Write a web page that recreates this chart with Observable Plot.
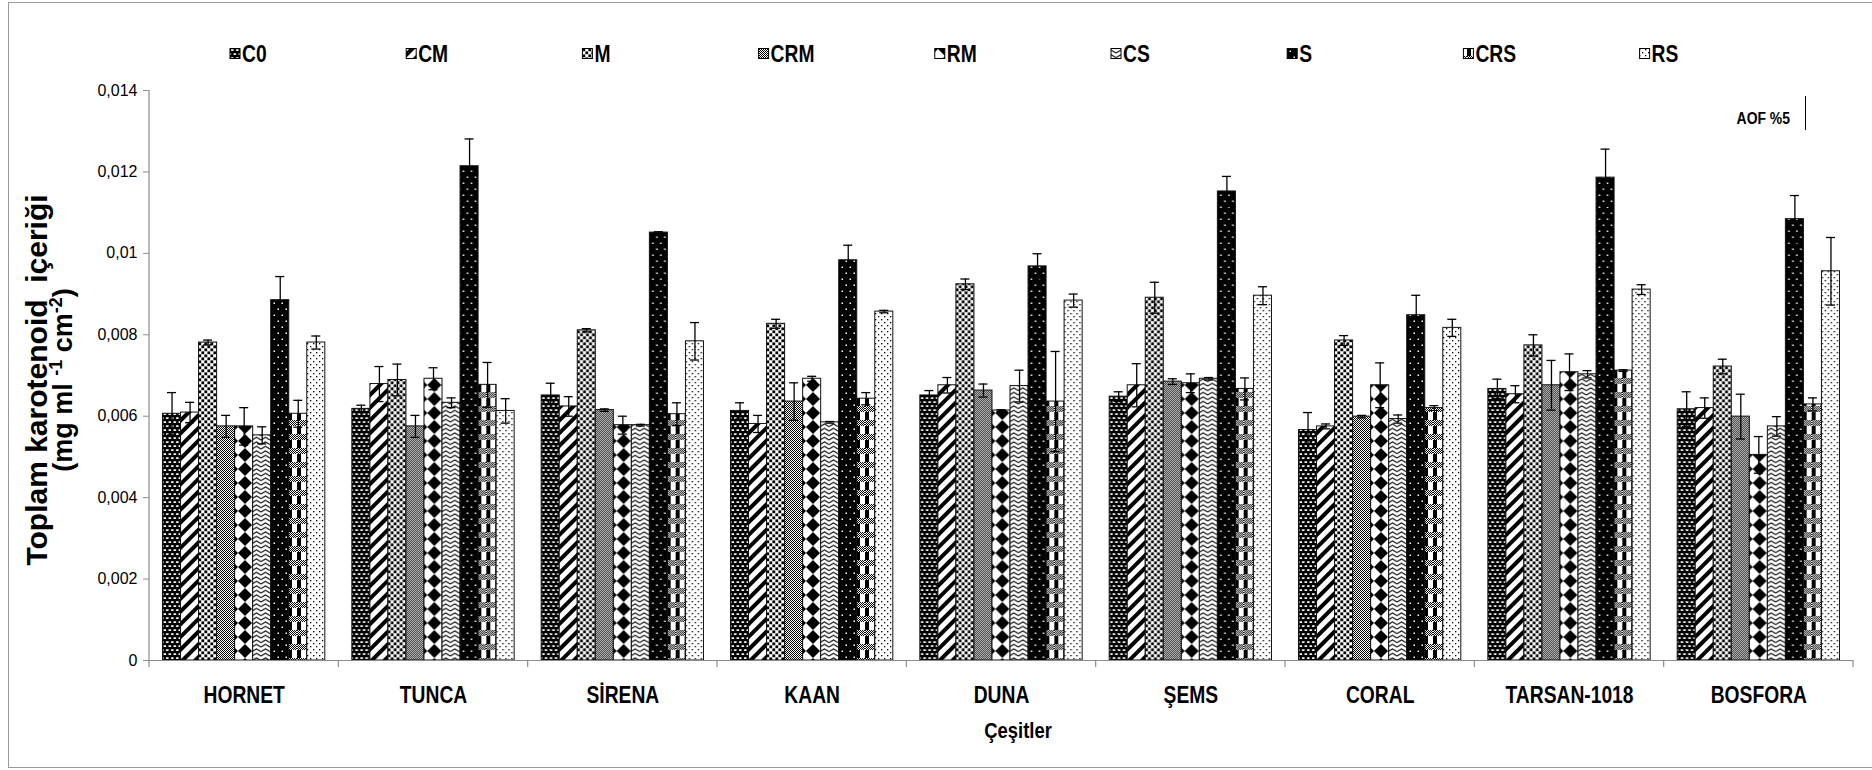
<!DOCTYPE html>
<html><head><meta charset="utf-8">
<script src="https://cdn.jsdelivr.net/npm/d3@7"></script>
<script src="https://cdn.jsdelivr.net/npm/@observablehq/plot@0.6"></script>
<style>
html,body{margin:0;padding:0;background:#fff;}
#wrap{position:relative;width:1872px;height:770px;overflow:hidden;background:#fff;}
#overlay{position:absolute;left:0;top:0;pointer-events:none;}
#chart{position:absolute;left:0;top:0;}
</style></head>
<body>
<svg width="0" height="0" style="position:absolute">
<defs>
<pattern id="chk" width="2" height="2" patternUnits="userSpaceOnUse"><rect width="2" height="2" fill="#fff"/><rect width="1" height="1" fill="#000"/><rect x="1" y="1" width="1" height="1" fill="#000"/></pattern>
<pattern id="p-C0" width="5" height="8" patternUnits="userSpaceOnUse"><rect width="5" height="8" fill="#000"/><rect x="0.8" y="1.2" width="3" height="1.7" rx="0.8" fill="#fff"/><rect x="3.3" y="5.2" width="3" height="1.7" rx="0.8" fill="#fff"/><rect x="-1.7" y="5.2" width="3" height="1.7" rx="0.8" fill="#fff"/></pattern>
<pattern id="p-CM" width="9" height="9" patternUnits="userSpaceOnUse" patternTransform="rotate(45)"><rect width="9" height="9" fill="#fff"/><rect width="4" height="9" fill="#000"/></pattern>
<pattern id="p-M" width="6" height="6" patternUnits="userSpaceOnUse"><rect width="6" height="6" fill="#fff"/><rect x="0.4" y="0.4" width="2.8" height="2.8" fill="#000"/><rect x="3.4" y="3.4" width="2.8" height="2.8" fill="#000"/><rect x="-2.6" y="3.4" width="2.8" height="2.8" fill="#000"/><rect x="3.4" y="-2.6" width="2.8" height="2.8" fill="#000"/></pattern>
<pattern id="p-CRM" width="2" height="2" patternUnits="userSpaceOnUse"><rect width="2" height="2" fill="#fff"/><rect width="1" height="1" fill="#000"/><rect x="1" y="1" width="1" height="1" fill="#000"/></pattern>
<pattern id="p-RM" width="14" height="14" patternUnits="userSpaceOnUse"><rect width="14" height="14" fill="#fff"/><polygon points="7,0 14,7 7,14 0,7" fill="#000"/></pattern>
<pattern id="p-CS" width="9" height="4.5" patternUnits="userSpaceOnUse"><rect width="9" height="4.5" fill="#fff"/><polyline points="0,3.6 4.5,0.9 9,3.6" fill="none" stroke="#000" stroke-width="1.1"/></pattern>
<pattern id="p-S" width="8" height="12" patternUnits="userSpaceOnUse"><rect width="8" height="12" fill="#000"/><rect x="1.5" y="2.5" width="1.5" height="1.5" fill="#fff"/><rect x="5.5" y="8.5" width="1.5" height="1.5" fill="#fff"/></pattern>
<pattern id="p-CRS" width="9" height="14" patternUnits="userSpaceOnUse"><rect width="9" height="14" fill="#fff"/><rect width="4" height="14" fill="#000"/><rect y="0" width="9" height="6" fill="url(#chk)"/></pattern>
<pattern id="p-RS" width="6" height="6" patternUnits="userSpaceOnUse"><rect width="6" height="6" fill="#fff"/><rect x="1" y="1" width="1.3" height="1.3" fill="#000"/><rect x="4" y="4" width="1.3" height="1.3" fill="#000"/></pattern>
</defs>
</svg>
<div id="wrap"><div id="chart"></div><svg id="overlay" width="1872" height="770"></svg></div>
<script>
// ---------- data ----------
const varieties = ["HORNET", "TUNCA", "SİRENA", "KAAN", "DUNA", "ŞEMS", "CORAL", "TARSAN-1018", "BOSFORA"];
const treatments = ["C0", "CM", "M", "CRM", "RM", "CS", "S", "CRS", "RS"];

const C0  = [0.00606, 0.00618, 0.00651, 0.00613, 0.00651, 0.00648, 0.00566, 0.00667, 0.00617];
const CM  = [0.00609, 0.00679, 0.00624, 0.00581, 0.00676, 0.00676, 0.00575, 0.00654, 0.00620];
const M   = [0.00781, 0.00689, 0.00811, 0.00827, 0.00924, 0.00891, 0.00786, 0.00774, 0.00722];
const CRM = [0.00575, 0.00575, 0.00615, 0.00636, 0.00663, 0.00685, 0.00599, 0.00676, 0.00599];
const RM  = [0.00575, 0.00692, 0.00578, 0.00692, 0.00614, 0.00681, 0.00676, 0.00708, 0.00505];
const CS  = [0.00553, 0.00633, 0.00578, 0.00585, 0.00674, 0.00692, 0.00593, 0.00703, 0.00575];
const S   = [0.00885, 0.01214, 0.01051, 0.00983, 0.00968, 0.01152, 0.00848, 0.01186, 0.01084];
const CRS = [0.00606, 0.00677, 0.00605, 0.00643, 0.00636, 0.00667, 0.00620, 0.00712, 0.00629];
const RS  = [0.00781, 0.00613, 0.00784, 0.00857, 0.00884, 0.00896, 0.00817, 0.00911, 0.00956];

const errC0  = [0.00052, 0.00009, 0.00030, 0.00020, 0.00012, 0.00012, 0.00043, 0.00024, 0.00043];
const errCM  = [0.00025, 0.00043, 0.00024, 0.00021, 0.00019, 0.00053, 0.00006, 0.00021, 0.00025];
const errM   = [0.00006, 0.00039, 0.00004, 0.00011, 0.00013, 0.00038, 0.00012, 0.00026, 0.00018];
const errCRM = [0.00027, 0.00027, 0.00003, 0.00046, 0.00016, 0.00007, 0.00003, 0.00061, 0.00055];
const errRM  = [0.00046, 0.00027, 0.00022, 0.00006, 0.00002, 0.00023, 0.00055, 0.00045, 0.00045];
const errCS  = [0.00021, 0.00012, 0.00002, 0.00002, 0.00039, 0.00003, 0.00010, 0.00009, 0.00024];
const errS   = [0.00058, 0.00067, 0.00002, 0.00037, 0.00031, 0.00037, 0.00049, 0.00070, 0.00058];
const errCRS = [0.00033, 0.00055, 0.00028, 0.00015, 0.00123, 0.00027, 0.00006, 0.00002, 0.00016];
const errRS  = [0.00016, 0.00030, 0.00046, 0.00003, 0.00016, 0.00022, 0.00021, 0.00012, 0.00083];

const yTicks = [0, 0.002, 0.004, 0.006, 0.008, 0.01, 0.012, 0.014];
const yTickLabels = ["0", "0,002", "0,004", "0,006", "0,008", "0,01", "0,012", "0,014"];

const yTitle1 = "Toplam karotenoid  içeriği";
const xTitle = "Çeşitler";
const note = "AOF %5";

// ---------- table ----------
const seriesVals = [C0, CM, M, CRM, RM, CS, S, CRS, RS];
const seriesErrs = [errC0, errCM, errM, errCRM, errRM, errCS, errS, errCRS, errRS];
const rows = [];
varieties.forEach((v, i) => treatments.forEach((t, j) => rows.push({
  variety: v, treatment: t, value: seriesVals[j][i], err: seriesErrs[j][i]
})));

const SANS = "'Liberation Sans',Arial,Helvetica,sans-serif";
const AXIS = "#8c8c8c";
const NX = 0.82; // horizontal squeeze to mimic a narrow bold face

const plot = Plot.plot({
  width: 1872, height: 770,
  marginLeft: 149, marginRight: 19, marginTop: 90, marginBottom: 110,
  style: {background: "transparent", fontFamily: SANS, fontSize: "16px", color: "#000"},
  color: {type: "identity"},
  fx: {domain: varieties, padding: 0, round: false, label: null, axis: "bottom", tickSize: 0, tickPadding: 26},
  x: {domain: treatments, paddingInner: 0, paddingOuter: 0.75, round: false, axis: null},
  y: {domain: [0, 0.014], ticks: yTicks, tickFormat: d => yTickLabels[yTicks.indexOf(d)], tickSize: 6, tickPadding: 6, label: null},
  marks: [
    Plot.barY(rows, {fx: "variety", x: "treatment", y: "value", fill: d => `url(#p-${d.treatment})`, stroke: "#111", strokeWidth: 1, inset: 0}),
    Plot.ruleX(rows, {fx: "variety", x: "treatment", y1: d => d.value - d.err, y2: d => d.value + d.err, stroke: "#000", strokeWidth: 1.3}),
    Plot.tickY(rows, {fx: "variety", x: "treatment", y: d => d.value - d.err, stroke: "#000", strokeWidth: 1.3, insetLeft: 4.5, insetRight: 4.5}),
    Plot.tickY(rows, {fx: "variety", x: "treatment", y: d => d.value + d.err, stroke: "#000", strokeWidth: 1.3, insetLeft: 4.5, insetRight: 4.5}),
    Plot.ruleY([0], {stroke: AXIS, strokeWidth: 1.2})
  ]
});
document.getElementById("chart").appendChild(plot);

const svg = d3.select(plot);
svg.selectAll('[aria-label="fx-axis tick label"] text')
  .style("font-family", SANS).style("font-weight", "bold").style("font-size", "23.5px")
  .each(function () {
    const tr = this.getAttribute("transform") || "";
    const x = this.getAttribute("x");
    if (x != null) this.setAttribute("x", +x / NX);
    this.setAttribute("transform", tr + ` scale(${NX},1)`);
  });
svg.selectAll('[aria-label="y-axis tick label"] text')
  .style("font-family", SANS).style("font-size", "16px");
svg.selectAll('[aria-label="y-axis tick"] path, [aria-label="y-axis tick"]').attr("stroke", AXIS);

// axis line and category boundary ticks, from the library's scales
const sy = plot.scale("y");
const sfx = plot.scale("fx");
const yS = d3.scaleLinear(sy.domain, sy.range);
const fr = sfx.range;
const step = (fr[1] - fr[0]) / sfx.domain.length;
const g = svg.append("g");
g.append("line").attr("x1", fr[0]).attr("x2", fr[0]).attr("y1", yS(0) + 0.5).attr("y2", yS(0.014))
  .attr("stroke", AXIS).attr("stroke-width", 1.2);
for (let i = 0; i <= sfx.domain.length; i++) {
  const x = fr[0] + step * i;
  g.append("line").attr("x1", x).attr("x2", x).attr("y1", yS(0)).attr("y2", yS(0) + 7)
    .attr("stroke", AXIS).attr("stroke-width", 1.2);
}

// ---------- overlay: legend, titles, frame ----------
const ov = d3.select("#overlay");
ov.append("rect").attr("x", 8.5).attr("y", 2.5).attr("width", 1900).attr("height", 765)
  .attr("fill", "none").attr("stroke", "#9a9a9a").attr("stroke-width", 1);

function narrowText(x, y, txt, size, anchor) {
  return ov.append("text").attr("transform", `translate(${x},${y}) scale(${NX},1)`)
    .attr("text-anchor", anchor || "start").text(txt)
    .style("font-family", SANS).style("font-weight", "bold").style("font-size", size + "px");
}

treatments.forEach((t, i) => {
  const x0 = 230 + 176.2 * i;
  ov.append("rect").attr("x", x0).attr("y", 48.5).attr("width", 10).attr("height", 10)
    .attr("fill", `url(#p-${t})`).attr("stroke", "#000").attr("stroke-width", 1);
  narrowText(x0 + 12, 62, t, 23.5);
});

narrowText(1790, 124, note, 17, "end");
ov.append("line").attr("x1", 1805.5).attr("x2", 1805.5).attr("y1", 96).attr("y2", 130)
  .attr("stroke", "#000").attr("stroke-width", 1);

narrowText(1018, 738, xTitle, 22.5, "middle");

ov.append("text").attr("transform", "translate(47,380) rotate(-90)").attr("text-anchor", "middle")
  .style("font-family", SANS).style("font-weight", "bold").style("font-size", "30px").style("white-space", "pre")
  .text(yTitle1);
const t2 = ov.append("text").attr("transform", "translate(72,380) rotate(-90)").attr("text-anchor", "middle")
  .style("font-family", SANS).style("font-weight", "bold").style("font-size", "27px").style("white-space", "pre");
t2.append("tspan").text("(mg ml ");
t2.append("tspan").attr("dy", -10).style("font-size", "18px").text("-1");
t2.append("tspan").attr("dy", 10).text(" cm");
t2.append("tspan").attr("dy", -10).style("font-size", "18px").text("-2");
t2.append("tspan").attr("dy", 10).text(")");
</script>
</body></html>
